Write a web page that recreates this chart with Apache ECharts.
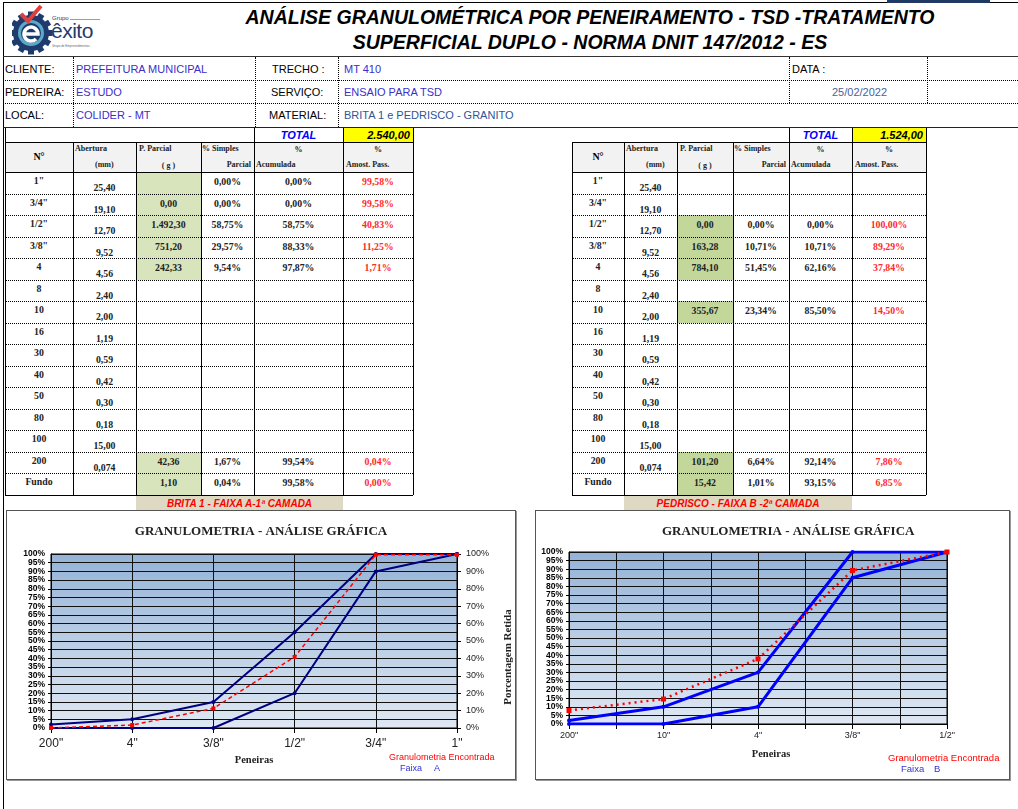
<!DOCTYPE html>
<html>
<head>
<meta charset="utf-8">
<script src="https://cdn.jsdelivr.net/npm/echarts@6/dist/echarts.min.js"></script>
<style>
  html,body{margin:0;padding:0;background:#fff;}
  body{width:1018px;height:809px;position:relative;overflow:hidden;font-family:"Liberation Sans",Arial,sans-serif;}
  .a{position:absolute;box-sizing:border-box;}
  .t{position:absolute;white-space:nowrap;}
  .c{position:absolute;white-space:nowrap;text-align:center;}
</style>
</head>
<body>
<div id="page"></div>
<script>
// ---------------- DATA ----------------
const sieveNames = ['1"', '3/4"', '1/2"', '3/8"', '4', '8', '10', '16', '30', '40', '50', '80', '100', '200', 'Fundo'];
const sieveOpenings = ['25,40', '19,10', '12,70', '9,52', '4,56', '2,40', '2,00', '1,19', '0,59', '0,42', '0,30', '0,18', '15,00', '0,074', ''];

const britaParcial = ['', '0,00', '1.492,30', '751,20', '242,33', '', '', '', '', '', '', '', '', '42,36', '1,10'];
const britaSimples = ['0,00%', '0,00%', '58,75%', '29,57%', '9,54%', '', '', '', '', '', '', '', '', '1,67%', '0,04%'];
const britaAcum = ['0,00%', '0,00%', '58,75%', '88,33%', '97,87%', '', '', '', '', '', '', '', '', '99,54%', '99,58%'];
const britaPass = ['99,58%', '99,58%', '40,83%', '11,25%', '1,71%', '', '', '', '', '', '', '', '', '0,04%', '0,00%'];
const britaGreenRows = [0, 1, 2, 3, 4, 13, 14];
const britaTotal = '2.540,00';

const pedParcial = ['', '', '0,00', '163,28', '784,10', '', '355,67', '', '', '', '', '', '', '101,20', '15,42'];
const pedSimples = ['', '', '0,00%', '10,71%', '51,45%', '', '23,34%', '', '', '', '', '', '', '6,64%', '1,01%'];
const pedAcum = ['', '', '0,00%', '10,71%', '62,16%', '', '85,50%', '', '', '', '', '', '', '92,14%', '93,15%'];
const pedPass = ['', '', '100,00%', '89,29%', '37,84%', '', '14,50%', '', '', '', '', '', '', '7,86%', '6,85%'];
const pedGreenRows = [2, 3, 4, 6, 13, 14];
const pedTotal = '1.524,00';

// Chart A (Brita 1 - Faixa A)
const chartACats = ['200"', '4"', '3/8"', '1/2"', '3/4"', '1"'];
const faixaAMax = [2, 5, 15, 55, 100, 100];
const faixaAMin = [0, 0, 0, 20, 90, 100];
const encontradaA = [0.04, 1.71, 11.25, 40.83, 99.58, 99.58];

// Chart B (Pedrisco - Faixa B)
const chartBCats = ['200"', '10"', '4"', '3/8"', '1/2"'];
const faixaBMax = [2, 10, 30, 100, 100];
const faixaBMin = [0, 0, 10, 85, 100];
const encontradaB = [7.86, 14.50, 37.84, 89.29, 100];

// ---------------- HELPERS ----------------
const page = document.getElementById('page');
function box(x, y, w, h, css) {
  const d = document.createElement('div'); d.className = 'a';
  d.style.cssText += `left:${x}px;top:${y}px;width:${w}px;height:${h}px;` + (css || '');
  page.appendChild(d); return d;
}
function hline(x1, x2, y, st) { return box(x1, y, x2 - x1, 0, `border-top:${st || '1px solid #000'};`); }
function vline(x, y1, y2, st) { return box(x, y1, 0, y2 - y1, `border-left:${st || '1px solid #000'};`); }
function txt(x, y, s, css, cls) {
  const d = document.createElement('div'); d.className = cls || 't';
  d.textContent = s; d.style.cssText += `left:${x}px;top:${y}px;` + (css || '');
  page.appendChild(d); return d;
}
function ctxt(x1, x2, yc, s, css) {
  return txt(x1, yc - 7, s, `width:${x2 - x1}px;height:14px;line-height:14px;` + (css || ''), 'c');
}

// ---------------- FRAME / HEADER ----------------
hline(3, 1018, 2, '1px solid #000');
box(887, 0, 103, 3, 'background:#1f3864;');
vline(3, 2, 809, '1px solid #000');
hline(3, 1018, 56, '1.5px solid #333');

// logo
const logo = box(12, 5, 120, 50, '');
logo.innerHTML = `<svg width="120" height="50" viewBox="0 0 120 50">
  <g transform="translate(19,28)">
    <circle r="18" fill="#1f3b6e"/>
    ${Array.from({length:12},(_,i)=>`<rect x="-3" y="-21.5" width="6" height="6" fill="#1f3b6e" transform="rotate(${i*30})"/>`).join('')}
    <circle r="13" fill="#5aa9c9"/>
    <circle r="10" fill="#1f3b6e"/>
    <path d="M-7,1 H7 A7,7 0 1 0 5,6" fill="none" stroke="#fff" stroke-width="3.5"/>
  </g>
  <path d="M9,9 L16,16 L29,1" fill="none" stroke="#e0403a" stroke-width="4"/>
</svg>`;
txt(52, 15, 'Grupo', 'font-size:6px;color:#1f3b6e;');
hline(70, 100, 19, '1px solid #e8816a');
txt(51, 19, 'êxito', 'font-size:21px;color:#1f3b6e;letter-spacing:-0.5px;');
txt(52, 44, 'Grupo de Empreendimentos', 'font-size:3px;color:#666;');

const titleCss = 'font-size:19.5px;font-weight:bold;font-style:italic;color:#000;height:24px;line-height:24px;';
ctxt(180, 1000, 17, 'ANÁLISE GRANULOMÉTRICA POR PENEIRAMENTO - TSD -TRATAMENTO', titleCss + 'top:5px;');
ctxt(180, 1000, 42, 'SUPERFICIAL DUPLO - NORMA DNIT 147/2012 - ES', titleCss + 'top:30px;');

// ---------------- INFO ROWS ----------------
const dot = '1px dotted #000';
hline(3, 1018, 80, dot);
hline(3, 1018, 103, dot);
hline(3, 1018, 127, '1.5px solid #222');
vline(73, 57, 127, dot); vline(255, 57, 127, dot); vline(338, 57, 127, dot);
vline(789, 57, 103, dot); vline(927, 57, 103, dot);
const infoCss = 'font-size:11px;height:14px;line-height:14px;';
const blue1 = 'color:#3b2fc9;';
txt(5, 62, 'CLIENTE:', infoCss); txt(76, 62, 'PREFEITURA MUNICIPAL', infoCss + blue1);
txt(272, 62, 'TRECHO :', infoCss); txt(344, 62, 'MT 410', infoCss + blue1);
txt(792, 62, 'DATA :', infoCss);
txt(5, 85, 'PEDREIRA:', infoCss); txt(76, 85, 'ESTUDO', infoCss + blue1);
txt(271, 85, 'SERVIÇO:', infoCss); txt(344, 85, 'ENSAIO PARA TSD', infoCss + blue1);
txt(832, 85, '25/02/2022', infoCss + 'color:#4a5f9a;');
txt(5, 108, 'LOCAL:', infoCss); txt(76, 108, 'COLIDER - MT', infoCss + blue1);
txt(269, 108, 'MATERIAL:', infoCss); txt(344, 108, 'BRITA 1 e PEDRISCO - GRANITO', infoCss + 'color:#2f5597;');

// ---------------- TABLES ----------------
const serifB = 'font-family:"Liberation Serif","Times New Roman",serif;font-weight:bold;';
function buildTable(b, parcial, simples, acum, pass, greenRows, green, total, withLeftTotalBox) {
  const top = 142, hdrB = 172, rh = 21.5, n = sieveNames.length, bottom = hdrB + rh * n;
  box(b[5], 128, b[6] - b[5], 14, 'background:#ffff00;');
  ctxt(b[4], b[5], 135, 'TOTAL', 'font-size:11px;font-weight:bold;font-style:italic;color:#0000ff;');
  txt(b[5], 128, total, `width:${b[6]-b[5]-3}px;text-align:right;font-size:11px;font-weight:bold;font-style:italic;line-height:14px;`);
  vline(b[4], 128, 142); vline(b[5], 128, 142); vline(b[6], 128, 142);
  if (withLeftTotalBox) vline(b[0], 128, 142);
  box(b[0], top, b[6] - b[0], hdrB - top, 'background:#f2f2f2;');
  greenRows.forEach(r => box(b[2], hdrB + rh * r, b[3] - b[2], rh, 'background:' + green + ';'));
  hline(b[0], b[6], top, '1.5px solid #000');
  hline(b[0], b[6], hdrB, '1.5px solid #000');
  for (let r = 1; r < n; r++) hline(b[0], b[6], hdrB + rh * r, '1px dotted #000');
  hline(b[0], b[6], bottom, '1.5px solid #000');
  for (let i = 0; i < b.length; i++) vline(b[i], top, bottom, (i === 0 || i === b.length - 1) ? '1.5px solid #000' : '1px solid #000');
  const h = serifB + 'font-size:8px;color:#222;';
  ctxt(b[0], b[1], 157, 'N°', serifB + 'font-size:10px;');
  txt(b[1] + 2, 144, 'Abertura', h); txt(b[1] + 22, 160, '(mm)', h);
  txt(b[2] + 3, 144, 'P. Parcial', h); ctxt(b[2], b[3], 166, '( g )', h);
  txt(b[3] + 1, 144, '% Simples', h); txt(b[3], 160, 'Parcial', h + `width:${b[4]-b[3]-3}px;text-align:right;`);
  ctxt(b[4], b[5], 150, '%', h); txt(b[4] + 2, 160, 'Acumulada', h);
  ctxt(b[5], b[6], 150, '%', h); txt(b[5] + 3, 160, 'Amost. Pass.', h);
  const dcss = serifB + 'font-size:9.8px;color:#222;';
  for (let r = 0; r < n; r++) {
    const T = hdrB + rh * r;
    ctxt(b[0], b[1], T + 9, sieveNames[r], dcss);
    ctxt(b[1], b[2], T + 16, sieveOpenings[r], dcss);
    ctxt(b[2], b[3], T + 10, parcial[r], dcss);
    ctxt(b[3], b[4], T + 10, simples[r], dcss);
    ctxt(b[4], b[5], T + 10, acum[r], dcss);
    ctxt(b[5], b[6], T + 10, pass[r], dcss + 'color:#ff2a2a;');
  }
}
buildTable([5, 73, 136, 201, 254, 343, 413], britaParcial, britaSimples, britaAcum, britaPass, britaGreenRows, '#d8e4bc', britaTotal, true);
buildTable([572, 624, 677, 733, 789, 852, 926], pedParcial, pedSimples, pedAcum, pedPass, pedGreenRows, '#c4d79b', pedTotal, false);

box(136, 496, 207, 14, 'background:#ddd9c3;');
ctxt(136, 343, 504, 'BRITA 1 - FAIXA A-1ª CAMADA', 'font-size:10px;font-weight:bold;font-style:italic;color:#ff0000;');
box(624, 496, 228, 14, 'background:#ddd9c3;');
ctxt(624, 852, 504, 'PEDRISCO - FAIXA B -2ª CAMADA', 'font-size:10px;font-weight:bold;font-style:italic;color:#ff0000;');

box(6, 510, 510, 270, 'border:1px solid #555;box-shadow:1px 1px 0 #999;background:#fff;');
box(535, 510, 475, 270, 'border:1px solid #555;box-shadow:1px 1px 0 #999;background:#fff;');

const chA = box(6, 510, 510, 270, '');
const chB = box(535, 510, 475, 270, '');

// ---------------- CHARTS ----------------
const plotBg = new echarts.graphic.LinearGradient(0, 0, 0, 1, [
  { offset: 0, color: '#95b3d7' }, { offset: 1, color: '#dfe8f3' }]);
const sans = '"Liberation Sans", Arial, sans-serif';
const serif = '"Liberation Serif", "Times New Roman", serif';
const labelStyle = { formatter: '{value}%', fontFamily: sans, fontWeight: 'bold', fontSize: 8.5, color: '#000', margin: 6 };

// main 5%-step axis (shows 5..95) + an overlay axis carrying the 0% / 100% ends
function leftAxes() {
  return [
    { type: 'value', min: 0, max: 100, interval: 5, position: 'left',
      axisLine: { show: true, lineStyle: { color: '#000' } }, axisTick: { show: true, length: 3, lineStyle: { color: '#000' } },
      splitLine: { show: true, lineStyle: { color: '#111', width: 1 } },
      axisLabel: Object.assign({}, labelStyle, { showMinLabel: false, showMaxLabel: false }) },
    { type: 'value', min: 0, max: 100, interval: 100, position: 'left', offset: 0,
      axisLine: { show: false }, axisTick: { show: false }, splitLine: { show: false },
      axisLabel: Object.assign({}, labelStyle, { showMinLabel: true, showMaxLabel: true }) }
  ];
}

const cA = echarts.init(chA, null, { renderer: 'canvas' });
cA.setOption({
  animation: false,
  title: { text: 'GRANULOMETRIA - ANÁLISE GRÁFICA', left: 'center', top: 10,
    textStyle: { fontFamily: serif, fontWeight: 'bold', fontSize: 13, color: '#222' } },
  grid: { left: 45, right: 59, top: 44, bottom: 52, show: true, backgroundColor: plotBg, borderColor: '#000', borderWidth: 1 },
  xAxis: { type: 'category', boundaryGap: false, data: chartACats,
    axisLine: { lineStyle: { color: '#000' } }, axisTick: { show: true, lineStyle: { color: '#000' } },
    splitLine: { show: true, lineStyle: { color: '#111', width: 1 } },
    axisLabel: { color: '#222', fontFamily: sans, fontSize: 12, margin: 10 },
    name: 'Peneiras', nameLocation: 'middle', nameGap: 25,
    nameTextStyle: { fontFamily: serif, fontWeight: 'bold', fontSize: 10.5, color: '#222' } },
  yAxis: leftAxes().concat([
    { type: 'value', min: 0, max: 100, interval: 10, position: 'right',
      axisLine: { show: true, lineStyle: { color: '#000' } }, axisTick: { show: true, length: 4, lineStyle: { color: '#000' } },
      splitLine: { show: false },
      axisLabel: { formatter: '{value}%', fontFamily: sans, fontSize: 9, color: '#222', margin: 9, showMinLabel: true, showMaxLabel: true } }
  ]),
  graphic: [
    { type: 'text', x: 502, y: 147, rotation: Math.PI / 2,
      style: { text: 'Porcentagem Retida', fontFamily: serif, fontWeight: 'bold', fontSize: 11, fill: '#222', align: 'center', verticalAlign: 'middle' } },
    { type: 'text', x: 383, y: 243, style: { text: 'Granulometria Encontrada', fontFamily: sans, fontSize: 9, fill: '#ff0000' } },
    { type: 'text', x: 394, y: 254, style: { text: 'Faixa', fontFamily: sans, fontSize: 9, fill: '#3333cc' } },
    { type: 'text', x: 428, y: 254, style: { text: 'A', fontFamily: sans, fontSize: 9, fill: '#3333cc' } }
  ],
  series: [
    { name: 'Faixa A max', type: 'line', data: faixaAMax, yAxisIndex: 0, symbol: 'circle', symbolSize: 4,
      itemStyle: { color: '#000080' }, lineStyle: { color: '#000080', width: 2 } },
    { name: 'Faixa A min', type: 'line', data: faixaAMin, yAxisIndex: 0, symbol: 'circle', symbolSize: 4,
      itemStyle: { color: '#000080' }, lineStyle: { color: '#000080', width: 2 } },
    { name: 'Granulometria Encontrada', type: 'line', data: encontradaA, yAxisIndex: 0, symbol: 'rect', symbolSize: 4,
      itemStyle: { color: '#ff0000' }, lineStyle: { color: '#ff0000', width: 1.5, type: [4, 3] } }
  ]
});

const cB = echarts.init(chB, null, { renderer: 'canvas' });
cB.setOption({
  animation: false,
  title: { text: 'GRANULOMETRIA - ANÁLISE GRÁFICA', left: 122, top: 10,
    textStyle: { fontFamily: serif, fontWeight: 'bold', fontSize: 13, color: '#222' } },
  grid: { left: 34, right: 63, top: 42, bottom: 56, show: true, backgroundColor: plotBg, borderColor: '#000', borderWidth: 1 },
  xAxis: { type: 'value', min: 0, max: chartBCats.length - 1, interval: 0.5,
    axisLine: { lineStyle: { color: '#000' } }, axisTick: { show: true, lineStyle: { color: '#000' } },
    splitLine: { show: true, lineStyle: { color: '#111', width: 1 } },
    axisLabel: { color: '#222', fontFamily: sans, fontSize: 9, margin: 7, showMinLabel: true, showMaxLabel: true,
      formatter: v => Number.isInteger(v) ? chartBCats[v] : '' } },
  yAxis: leftAxes(),
  graphic: [
    { type: 'text', x: 236, y: 244, style: { text: 'Peneiras', fontFamily: serif, fontWeight: 'bold', fontSize: 10.5, fill: '#222', align: 'center', verticalAlign: 'middle' } },
    { type: 'text', x: 353, y: 243, style: { text: 'Granulometria Encontrada', fontFamily: sans, fontSize: 9.5, fill: '#ff0000' } },
    { type: 'text', x: 366, y: 254, style: { text: 'Faixa', fontFamily: sans, fontSize: 9.5, fill: '#3333cc' } },
    { type: 'text', x: 399, y: 254, style: { text: 'B', fontFamily: sans, fontSize: 9.5, fill: '#3333cc' } }
  ],
  series: [
    { name: 'Faixa B max', type: 'line', data: chartBCats.map((c, i) => [i, faixaBMax[i]]), yAxisIndex: 0, symbol: 'circle', symbolSize: 4,
      itemStyle: { color: '#0000ff' }, lineStyle: { color: '#0000ff', width: 3 } },
    { name: 'Faixa B min', type: 'line', data: chartBCats.map((c, i) => [i, faixaBMin[i]]), yAxisIndex: 0, symbol: 'circle', symbolSize: 4,
      itemStyle: { color: '#0000ff' }, lineStyle: { color: '#0000ff', width: 3 } },
    { name: 'Granulometria Encontrada', type: 'line', data: chartBCats.map((c, i) => [i, encontradaB[i]]), yAxisIndex: 0, symbol: 'rect', symbolSize: 5,
      itemStyle: { color: '#ff0000' }, lineStyle: { color: '#ff0000', width: 2.5, type: [2, 4] } }
  ]
});
</script>
</body>
</html>
